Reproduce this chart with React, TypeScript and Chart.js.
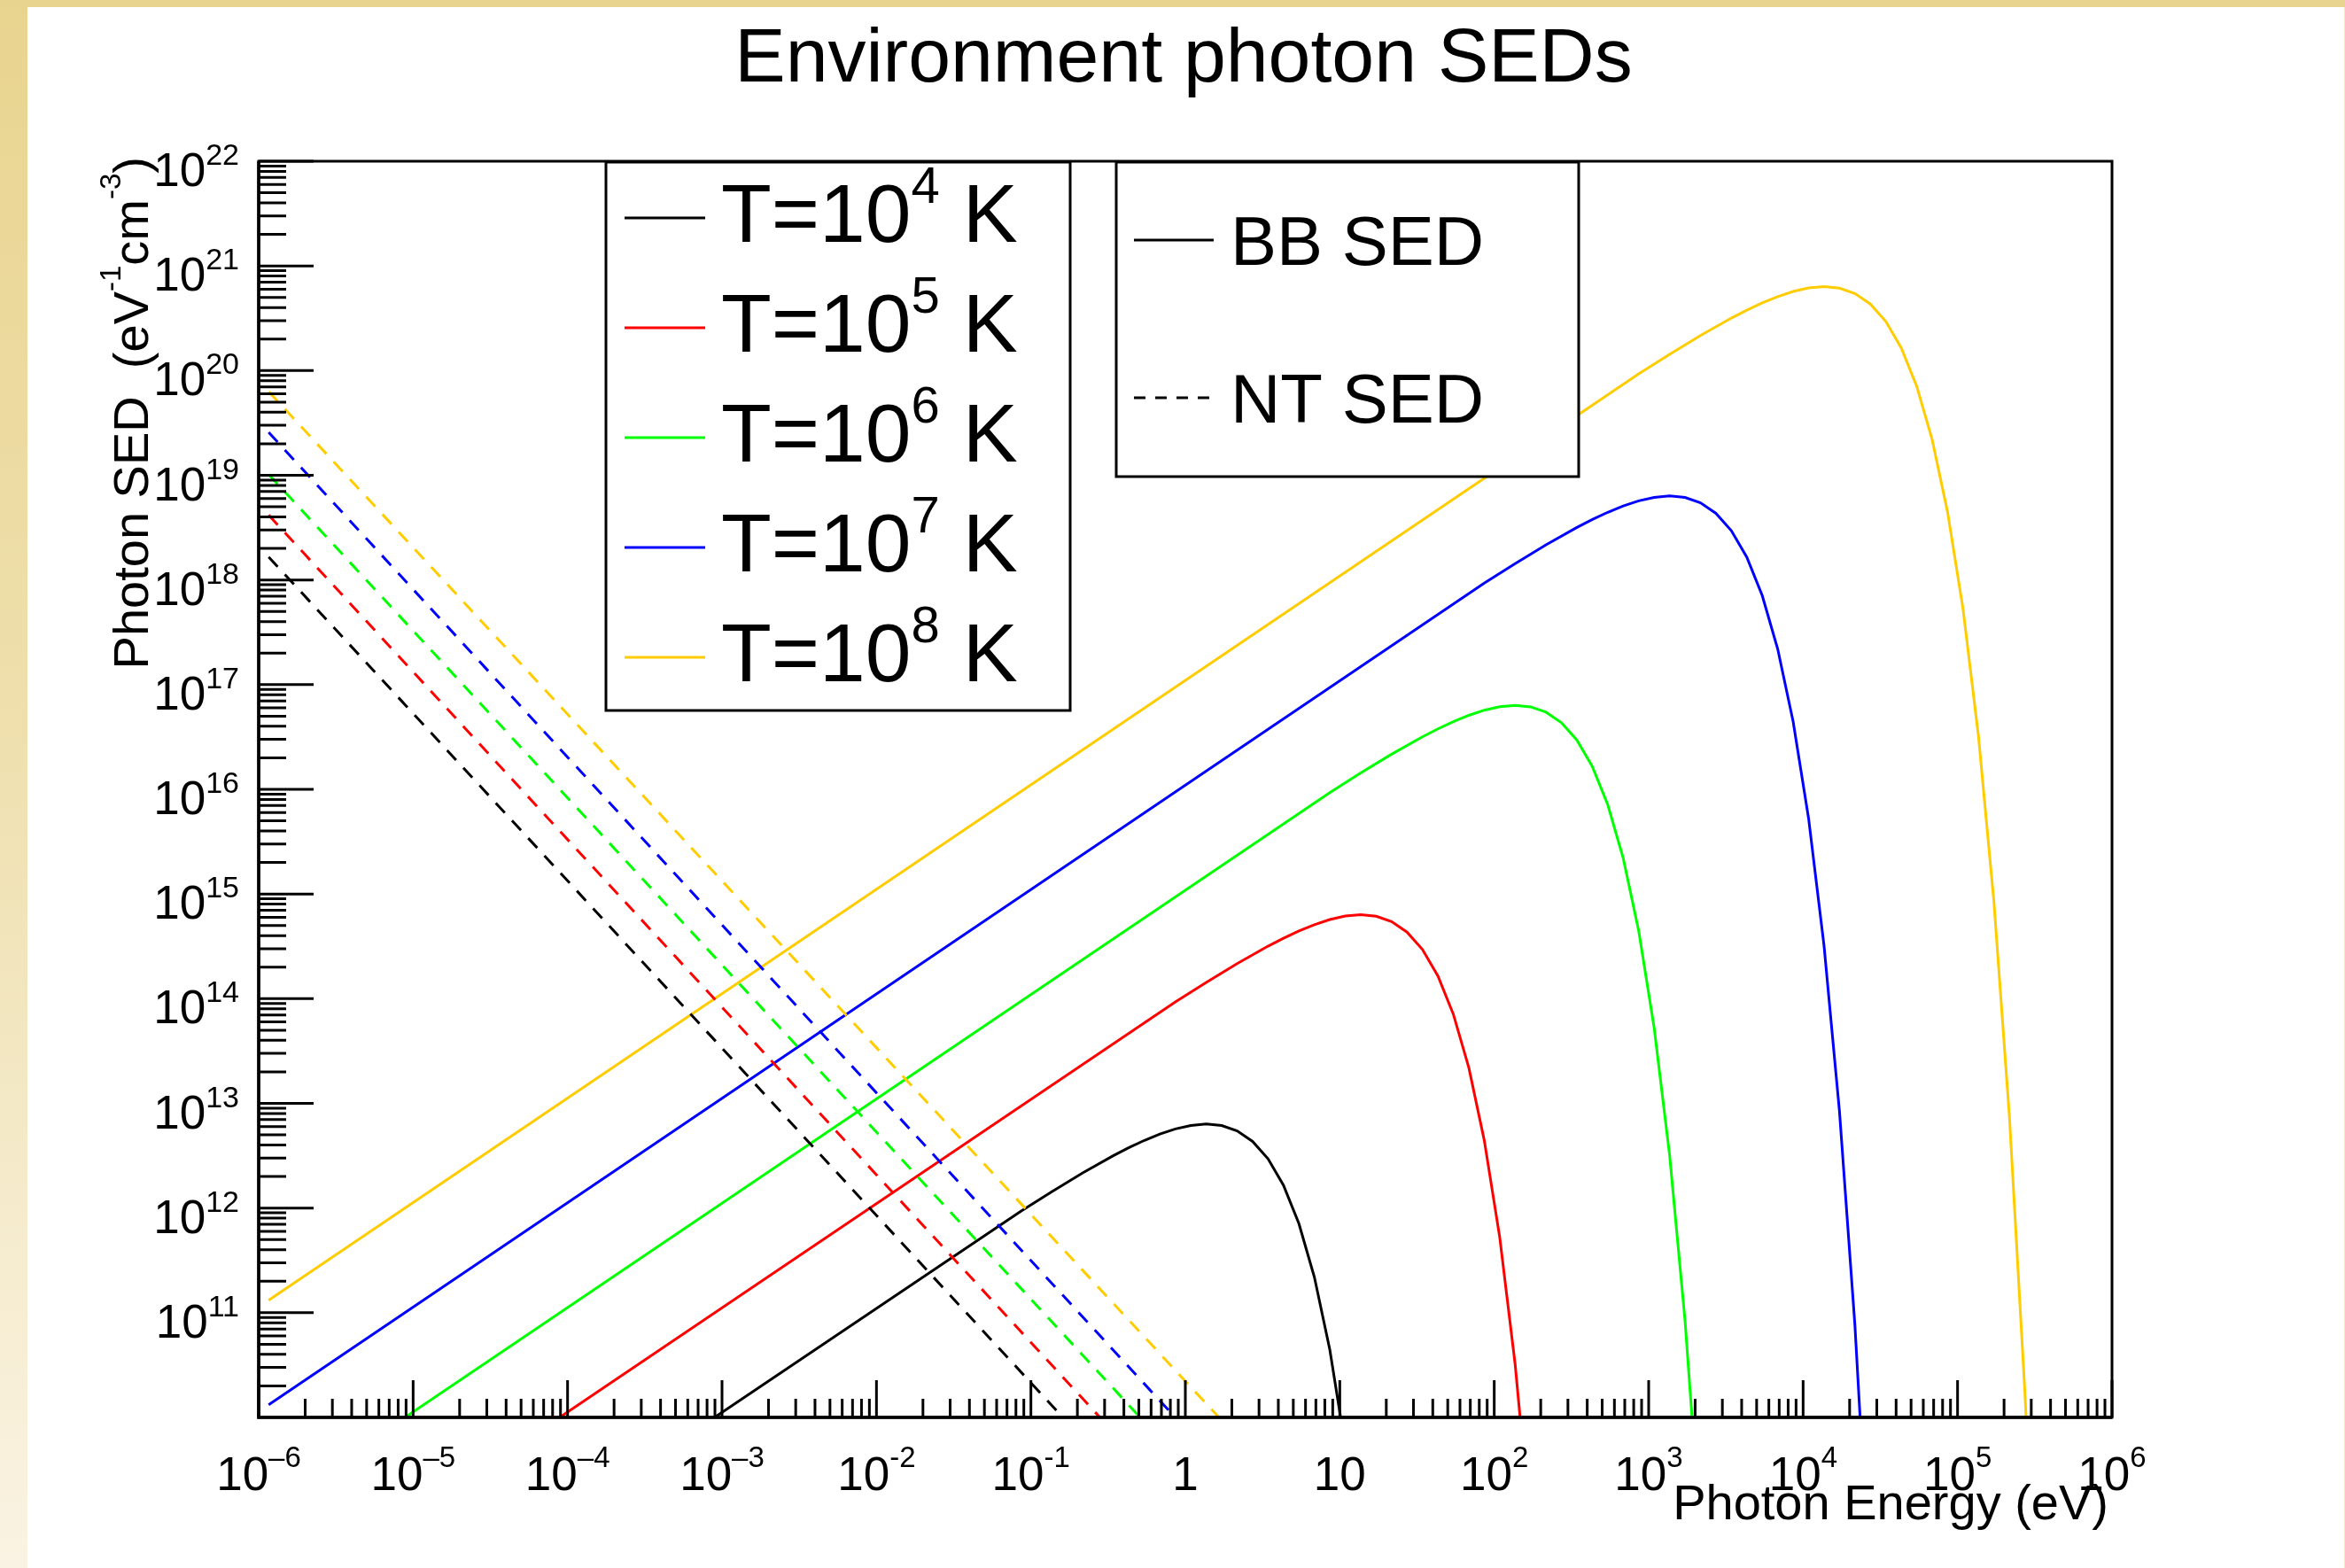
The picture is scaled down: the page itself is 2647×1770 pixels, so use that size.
import React, { useEffect, useRef } from "react";
import { Chart, registerables } from "chart.js";

Chart.register(...registerables);

const CANVAS_W = 2647;
const CANVAS_H = 1770;
const FONT = '"Liberation Sans", Arial, Helvetica, sans-serif';

// ---------- text ----------
const chartTitle = "Environment photon SEDs";
const xAxisTitle = "Photon Energy (eV)";
const yAxisTitle: [string, boolean][] = [
  ["Photon SED  (eV", false],
  ["-1", true],
  ["cm", false],
  ["-3", true],
  [")", false],
];

// ---------- black-body SEDs (eV, eV^-1 cm^-3) ----------
const bbEnergyT4 = [1e-4, 0.08617, 0.13657, 0.21645, 0.34305, 0.43188, 0.5437, 0.68448, 0.8617, 1.0848, 1.3657, 1.7193, 2.1645, 2.7249, 3.4305, 4.3188, 5.437, 6.8448, 8.617, 10.848];
const bbSedT4 = [1.1363e9, 9.31e11, 1.4322e12, 2.1636e12, 3.1736e12, 3.78e12, 4.4327e12, 5.0935e12, 5.6986e12, 6.1542e12, 6.3411e12, 6.1348e12, 5.4538e12, 4.3279e12, 2.9518e12, 1.6486e12, 7.103e11, 2.1942e11, 4.4456e10, 5.2893e9];

const bbEnergyT5 = [1e-5, 0.8617, 1.3657, 2.1645, 3.4305, 4.3188, 5.437, 6.8448, 8.617, 10.848, 13.657, 17.193, 21.645, 27.249, 34.305, 43.188, 54.37, 68.448, 86.17, 108.48, 136.57, 171.93];
const bbSedT5 = [1.1363e9, 9.31e13, 1.4322e14, 2.1636e14, 3.1736e14, 3.78e14, 4.4327e14, 5.0935e14, 5.6986e14, 6.1542e14, 6.3411e14, 6.1348e14, 5.4538e14, 4.3279e14, 2.9518e14, 1.6486e14, 7.103e13, 2.1942e13, 4.4456e12, 5.2893e11, 3.2193e10, 8.4246e8];

const bbEnergyT6 = [1.16e-6, 8.617, 13.657, 21.645, 34.305, 43.188, 54.37, 68.448, 86.17, 108.48, 136.57, 171.93, 216.45, 272.49, 343.05, 431.88, 543.7, 684.48, 861.7, 1084.8, 1365.7, 1719.3, 2164.5];
const bbSedT6 = [1.3181e9, 9.31e15, 1.4322e16, 2.1636e16, 3.1736e16, 3.78e16, 4.4327e16, 5.0935e16, 5.6986e16, 6.1542e16, 6.3411e16, 6.1348e16, 5.4538e16, 4.3279e16, 2.9518e16, 1.6486e16, 7.103e15, 2.1942e15, 4.4456e14, 5.2893e13, 3.2193e12, 8.4246e10, 7.6183e8];

const bbEnergyT7 = [1.16e-6, 86.17, 136.57, 216.45, 343.05, 431.88, 543.7, 684.48, 861.7, 1084.8, 1365.7, 1719.3, 2164.5, 2724.9, 3430.5, 4318.8, 5437, 6844.8, 8617, 10848, 13657, 17193, 21645, 27249];
const bbSedT7 = [1.3181e10, 9.31e17, 1.4322e18, 2.1636e18, 3.1736e18, 3.78e18, 4.4327e18, 5.0935e18, 5.6986e18, 6.1542e18, 6.3411e18, 6.1348e18, 5.4538e18, 4.3279e18, 2.9518e18, 1.6486e18, 7.103e17, 2.1942e17, 4.4456e16, 5.2893e15, 3.2193e14, 8.4246e12, 7.6183e10, 1.8083e8];

const bbEnergyT8 = [1.16e-6, 861.7, 1365.7, 2164.5, 3430.5, 4318.8, 5437, 6844.8, 8617, 10848, 13657, 17193, 21645, 27249, 34305, 43188, 54370, 68448, 86170, 108480, 136570, 171930, 216450, 272490, 305740];
const bbSedT8 = [1.3181e11, 9.31e19, 1.4322e20, 2.1636e20, 3.1736e20, 3.78e20, 4.4327e20, 5.0935e20, 5.6986e20, 6.1542e20, 6.3411e20, 6.1348e20, 5.4538e20, 4.3279e20, 2.9518e20, 1.6486e20, 7.103e19, 2.1942e19, 4.4456e18, 5.2893e17, 3.2193e16, 8.4246e14, 7.6183e12, 1.8083e10, 4.803e8];

// ---------- non-thermal SEDs ----------
const ntEnergyT4 = [1.16e-6, 0.161];
const ntSedT4 = [1.66e18, 1e10];
const ntEnergyT5 = [1.16e-6, 0.28];
const ntSedT5 = [4.17e18, 1e10];
const ntEnergyT6 = [1.16e-6, 0.51];
const ntSedT6 = [1.02e19, 1e10];
const ntEnergyT7 = [1.16e-6, 0.86];
const ntSedT7 = [2.57e19, 1e10];
const ntEnergyT8 = [1.16e-6, 1.65];
const ntSedT8 = [6.31e19, 1e10];

// ---------- legends ----------
const temperatureLabels: [string, string, string][] = [
  ["T=10", "4", " K"],
  ["T=10", "5", " K"],
  ["T=10", "6", " K"],
  ["T=10", "7", " K"],
  ["T=10", "8", " K"],
];
const seriesColors = ["#000000", "#ff0000", "#00ff00", "#0000ff", "#ffcc00"];
const styleLabels = ["BB SED", "NT SED"];

// ---------- axes ----------
const xMin = 1e-6;
const xMax = 1e6;
const yMin = 1e10;
const yMax = 1e22;
const xMajorTicks = [1e-6, 1e-5, 1e-4, 1e-3, 1e-2, 1e-1, 1, 10, 1e2, 1e3, 1e4, 1e5, 1e6];
const xTickLabels: [string, string][] = [
  ["10", "\u20136"], ["10", "\u20135"], ["10", "\u20134"], ["10", "\u20133"], ["10", "-2"], ["10", "-1"],
  ["1", ""], ["10", ""], ["10", "2"], ["10", "3"], ["10", "4"], ["10", "5"], ["10", "6"],
];
const yMajorTicks = [1e11, 1e12, 1e13, 1e14, 1e15, 1e16, 1e17, 1e18, 1e19, 1e20, 1e21, 1e22];
const yTickLabels: [string, string][] = [
  ["10", "11"], ["10", "12"], ["10", "13"], ["10", "14"], ["10", "15"], ["10", "16"],
  ["10", "17"], ["10", "18"], ["10", "19"], ["10", "20"], ["10", "21"], ["10", "22"],
];

function pts(xs: number[], ys: number[]) {
  return xs.map((x, i) => ({ x, y: ys[i] }));
}

function drawRich(
  ctx: CanvasRenderingContext2D,
  parts: [string, boolean][],
  x: number,
  y: number,
  align: "left" | "center" | "right",
  mainPx: number,
  supPx: number,
  raise: number
) {
  const widths = parts.map(([t, sup]) => {
    ctx.font = `${sup ? supPx : mainPx}px ${FONT}`;
    return ctx.measureText(t).width;
  });
  const total = widths.reduce((a, b) => a + b, 0);
  let cx = align === "left" ? x : align === "center" ? x - total / 2 : x - total;
  ctx.textAlign = "left";
  ctx.textBaseline = "alphabetic";
  parts.forEach(([t, sup], i) => {
    ctx.font = `${sup ? supPx : mainPx}px ${FONT}`;
    ctx.fillText(t, cx, sup ? y - raise : y);
    cx += widths[i];
  });
}

const rootStylePlugin = {
  id: "rootStyle",
  beforeDraw(chart: any) {
    const ctx: CanvasRenderingContext2D = chart.ctx;
    ctx.save();
    ctx.fillStyle = "#ffffff";
    ctx.fillRect(0, 0, CANVAS_W, CANVAS_H);
    const grad = ctx.createLinearGradient(0, 0, 0, CANVAS_H);
    grad.addColorStop(0, "#e9d48f");
    grad.addColorStop(0.45, "#eedfac");
    grad.addColorStop(1, "#faf3e3");
    ctx.fillStyle = grad;
    ctx.fillRect(0, 0, 31, CANVAS_H);
    ctx.fillStyle = "#e9d48f";
    ctx.fillRect(0, 0, CANVAS_W, 8);
    ctx.fillStyle = "#f6e8c2";
    ctx.fillRect(CANVAS_W - 1, 8, 1, CANVAS_H - 8);
    ctx.restore();
  },
  afterDatasetsDraw(chart: any) {
    const ctx: CanvasRenderingContext2D = chart.ctx;
    const xs = chart.scales.x;
    const ys = chart.scales.y;
    const { left, right, top, bottom } = chart.chartArea;
    ctx.save();
    ctx.fillStyle = "#000";
    ctx.strokeStyle = "#000";
    ctx.lineCap = "butt";

    // ----- legend 1 (temperatures) -----
    const l1 = { x0: 684, x1: 1208, y0: top + 1, y1: 802 };
    ctx.fillStyle = "#fff";
    ctx.fillRect(l1.x0, l1.y0, l1.x1 - l1.x0, l1.y1 - l1.y0);
    ctx.lineWidth = 3;
    ctx.strokeStyle = "#000";
    ctx.strokeRect(l1.x0, l1.y0, l1.x1 - l1.x0, l1.y1 - l1.y0);
    const l1Rows = [246, 370, 494, 618, 742];
    temperatureLabels.forEach((lab, i) => {
      const yy = l1Rows[i];
      ctx.strokeStyle = seriesColors[i];
      ctx.lineWidth = 3;
      ctx.setLineDash([]);
      ctx.beginPath();
      ctx.moveTo(705, yy);
      ctx.lineTo(796, yy);
      ctx.stroke();
      ctx.fillStyle = "#000";
      drawRich(ctx, [[lab[0], false], [lab[1], true], [lab[2], false]], 814, yy + 27, "left", 93, 58, 44);
    });

    // ----- legend 2 (styles) -----
    const l2 = { x0: 1260, x1: 1782, y0: top + 1, y1: 538 };
    ctx.fillStyle = "#fff";
    ctx.fillRect(l2.x0, l2.y0, l2.x1 - l2.x0, l2.y1 - l2.y0);
    ctx.lineWidth = 3;
    ctx.strokeStyle = "#000";
    ctx.strokeRect(l2.x0, l2.y0, l2.x1 - l2.x0, l2.y1 - l2.y0);
    const l2Rows = [271, 449];
    styleLabels.forEach((lab, i) => {
      const yy = l2Rows[i];
      ctx.strokeStyle = "#000";
      ctx.lineWidth = 3;
      ctx.setLineDash(i === 1 ? [13, 11] : []);
      ctx.beginPath();
      ctx.moveTo(1280, yy);
      ctx.lineTo(1370, yy);
      ctx.stroke();
      ctx.setLineDash([]);
      ctx.fillStyle = "#000";
      ctx.font = `78px ${FONT}`;
      ctx.textAlign = "left";
      ctx.textBaseline = "alphabetic";
      ctx.fillText(lab, 1389, yy + 28);
    });

    // ----- frame -----
    ctx.setLineDash([]);
    ctx.strokeStyle = "#000";
    ctx.lineWidth = 3;
    ctx.strokeRect(left, top, right - left, bottom - top);
    ctx.lineWidth = 3.5;
    ctx.beginPath();
    ctx.moveTo(left, top);
    ctx.lineTo(left, bottom);
    ctx.lineTo(right, bottom);
    ctx.stroke();

    // ----- x ticks -----
    ctx.lineWidth = 3;
    const xLo = Math.round(Math.log10(xMin));
    const xHi = Math.round(Math.log10(xMax));
    ctx.beginPath();
    for (let k = xLo; k < xHi; k++) {
      for (let m = 2; m <= 9; m++) {
        const px = xs.getPixelForValue(m * Math.pow(10, k));
        ctx.moveTo(px, bottom);
        ctx.lineTo(px, bottom - 21);
      }
    }
    xMajorTicks.forEach((v) => {
      const px = xs.getPixelForValue(v);
      ctx.moveTo(px, bottom);
      ctx.lineTo(px, bottom - 42);
    });
    ctx.stroke();

    // ----- y ticks -----
    const yLo = Math.round(Math.log10(yMin));
    const yHi = Math.round(Math.log10(yMax));
    ctx.beginPath();
    for (let k = yLo; k < yHi; k++) {
      for (let m = 2; m <= 9; m++) {
        const py = ys.getPixelForValue(m * Math.pow(10, k));
        ctx.moveTo(left, py);
        ctx.lineTo(left + 31, py);
      }
    }
    yMajorTicks.forEach((v) => {
      const py = ys.getPixelForValue(v);
      ctx.moveTo(left, py);
      ctx.lineTo(left + 62, py);
    });
    ctx.stroke();

    // ----- tick labels -----
    ctx.fillStyle = "#000";
    xMajorTicks.forEach((v, i) => {
      const px = xs.getPixelForValue(v);
      const [b, e] = xTickLabels[i];
      const parts: [string, boolean][] = e ? [[b, false], [e, true]] : [[b, false]];
      drawRich(ctx, parts, px, bottom + 82, "center", 53, 33, 26);
    });
    yMajorTicks.forEach((v, i) => {
      const py = ys.getPixelForValue(v);
      const [b, e] = yTickLabels[i];
      drawRich(ctx, [[b, false], [e, true]], left - 22, py + 28, "right", 53, 34, 24);
    });

    // ----- titles -----
    ctx.font = `86px ${FONT}`;
    ctx.textAlign = "center";
    ctx.textBaseline = "alphabetic";
    ctx.fillText(chartTitle, 1336, 92);

    ctx.font = `56px ${FONT}`;
    ctx.textAlign = "right";
    ctx.fillText(xAxisTitle, right - 4, 1715);

    ctx.save();
    ctx.translate(167, top - 5);
    ctx.rotate(-Math.PI / 2);
    drawRich(ctx, yAxisTitle, 0, 0, "right", 56, 33, 31);
    ctx.restore();

    ctx.restore();
  },
};

export default function App() {
  const canvasRef = useRef<HTMLCanvasElement | null>(null);

  useEffect(() => {
    document.body.style.margin = "0";
    const canvas = canvasRef.current;
    if (!canvas) return;

    const bb = [
      [bbEnergyT4, bbSedT4],
      [bbEnergyT5, bbSedT5],
      [bbEnergyT6, bbSedT6],
      [bbEnergyT7, bbSedT7],
      [bbEnergyT8, bbSedT8],
    ];
    const nt = [
      [ntEnergyT4, ntSedT4],
      [ntEnergyT5, ntSedT5],
      [ntEnergyT6, ntSedT6],
      [ntEnergyT7, ntSedT7],
      [ntEnergyT8, ntSedT8],
    ];

    const datasets: any[] = [];
    nt.forEach(([e, s], i) => {
      datasets.push({
        label: "NT " + i,
        data: pts(e, s),
        borderColor: seriesColors[i],
        borderWidth: 3,
        borderDash: [15, 12],
        pointRadius: 0,
        fill: false,
        tension: 0,
        clip: 0,
      });
    });
    bb.forEach(([e, s], i) => {
      datasets.push({
        label: "BB " + i,
        data: pts(e, s),
        borderColor: seriesColors[i],
        borderWidth: 3,
        pointRadius: 0,
        fill: false,
        tension: 0,
        clip: 0,
      });
    });

    const chart = new Chart(canvas, {
      type: "line",
      data: { datasets },
      options: {
        animation: false,
        responsive: false,
        devicePixelRatio: 1,
        events: [],
        layout: {
          padding: { left: 292, top: 182, right: CANVAS_W - 2384, bottom: CANVAS_H - 1600 },
        },
        plugins: {
          legend: { display: false },
          title: { display: false },
          tooltip: { enabled: false },
        },
        scales: {
          x: { type: "logarithmic", min: xMin, max: xMax, display: false },
          y: { type: "logarithmic", min: yMin, max: yMax, display: false },
        },
      } as any,
      plugins: [rootStylePlugin as any],
    });

    return () => chart.destroy();
  }, []);

  return (
    <canvas
      ref={canvasRef}
      width={CANVAS_W}
      height={CANVAS_H}
      style={{ display: "block", width: CANVAS_W, height: CANVAS_H }}
    />
  );
}
